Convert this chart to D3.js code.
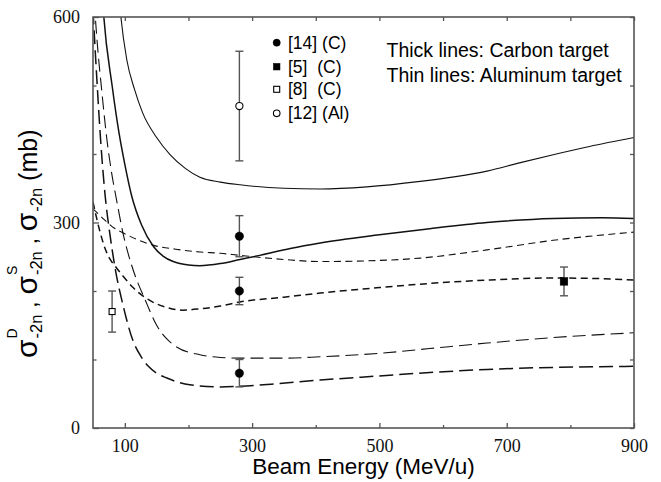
<!DOCTYPE html>
<html><head><meta charset="utf-8">
<script src="https://cdn.jsdelivr.net/npm/d3@7/dist/d3.min.js"></script>
<style>body{margin:0;background:#fff}svg{display:block}</style>
</head><body>
<svg id="chart" width="661" height="482"></svg>
<script>
// ---- tick values ----
const xTicksMajor = [100, 300, 500, 700, 900];
const xTicksMinor = [200, 400, 600, 800];
const yTicksMajor = [0, 300, 600];
const yTicksMinor = [100, 200, 400, 500];

// ---- theory curves (energy MeV/u, cross section mb) ----
// Aluminum total (thin solid)
const alTotalE = [90, 93.5, 103, 115, 128, 150, 171, 195, 218, 250, 281, 350, 407, 480, 564, 620, 669, 720, 773, 830, 900];
const alTotalV = [640, 603, 538, 495, 460, 424, 399, 379, 366, 359, 355, 350, 349, 352, 360, 367, 375, 387, 399, 411, 424];
// Carbon total (thick solid)
const cTotalE = [64, 67, 80, 91, 100, 111, 126.5, 145, 160, 176, 200, 218, 250, 281, 312, 360, 407, 500, 579, 669, 773, 850, 900];
const cTotalV = [640, 600, 500, 430, 385, 338, 296, 265, 251, 243, 238, 237, 240, 246, 252, 262, 270, 282, 291, 300, 306, 307, 306];
// Aluminum single (thin short dash)
const alSingleE = [50, 60, 69, 80, 97, 120, 144, 180, 218, 250, 281, 350, 407, 480, 564, 669, 773, 900];
const alSingleV = [320, 311, 303, 294, 285, 275, 267, 261, 257, 255, 252, 246, 243, 244, 248, 260, 274, 286];
// Carbon single (thick short dash)
const cSingleE = [50, 60, 69, 77, 85, 97, 113, 136, 166, 190, 218, 250, 281, 350, 407, 500, 579, 669, 773, 850, 900];
const cSingleV = [330, 290, 262, 246, 236, 222, 205, 188, 176, 172, 174, 178, 184, 191, 197, 205, 211, 216, 219, 218, 216];
// Aluminum double (thin long dash)
const alDoubleE = [50, 56, 64, 72, 79, 87, 97, 113, 132, 150, 166, 182, 218, 250, 281, 350, 407, 500, 579, 669, 773, 900];
const alDoubleV = [650, 570, 490, 420, 374, 333, 285, 231, 187, 150, 130, 118, 107, 103, 102, 102, 104, 109, 116, 124, 132, 139];
// Carbon double (thick long dash)
const cDoubleE = [50, 56, 62, 69, 77, 85, 97, 113, 125, 137, 150, 166, 202, 250, 281, 330, 407, 500, 579, 669, 773, 900];
const cDoubleV = [610, 510, 420, 340, 280, 232, 180, 127, 105, 90, 80, 73, 63, 60, 61, 64, 70, 76, 81, 85.5, 88.5, 90];

// ---- experimental data ----
const ref14E = [280, 280, 280], ref14V = [280, 200, 80], ref14Err = [30, 20, 20];
const ref5E = [790], ref5V = [214], ref5Err = [21];
const ref8E = [80], ref8V = [170], ref8Err = [30];
const ref12E = [280], ref12V = [470], ref12Err = [80];

const legendLabels = ["[14] (C)", "[5]  (C)", "[8]  (C)", "[12] (Al)"];
const noteLines = ["Thick lines: Carbon target", "Thin lines: Aluminum target"];

// ---- layout ----
const svg = d3.select("#chart");
const L = 93, R = 634, T = 17, B = 428;
const x = d3.scaleLinear().domain([50, 900]).range([L, R]);
const y = d3.scaleLinear().domain([0, 600]).range([B, T]);
const axisColor = "#555";
const serif = "'Liberation Serif','Times New Roman',serif";
const sans = "'Liberation Sans',Arial,Helvetica,sans-serif";

svg.append("defs").append("clipPath").attr("id", "clip")
  .append("rect").attr("x", L).attr("y", T).attr("width", R - L).attr("height", B - T);

// ---- curves ----
const line = d3.line().x(d => x(d[0])).y(d => y(d[1])).curve(d3.curveMonotoneX);
const curves = [
  {E: alTotalE, V: alTotalV, w: 1.1, dash: null},
  {E: cTotalE, V: cTotalV, w: 1.5, dash: null},
  {E: alSingleE, V: alSingleV, w: 1.1, dash: "7,4.5"},
  {E: cSingleE, V: cSingleV, w: 1.5, dash: "7,4.5"},
  {E: alDoubleE, V: alDoubleV, w: 1.1, dash: "13,6"},
  {E: cDoubleE, V: cDoubleV, w: 1.5, dash: "14,6"}
];
const cg = svg.append("g").attr("clip-path", "url(#clip)");
curves.forEach(c => {
  cg.append("path").datum(d3.zip(c.E, c.V)).attr("d", line)
    .attr("fill", "none").attr("stroke", "#111").attr("stroke-width", c.w)
    .attr("stroke-dasharray", c.dash);
});

// ---- axes ----
function styleAxis(g) {
  g.select(".domain").remove();
  g.selectAll(".tick line").attr("stroke", axisColor).attr("stroke-width", 1.3);
  g.selectAll(".tick text").attr("fill", "#111").style("font-family", serif).style("font-size", "18px");
}
svg.append("g").attr("transform", `translate(0,${B})`)
  .call(d3.axisBottom(x).tickValues(xTicksMajor).tickSize(-5).tickPadding(11).tickFormat(d3.format("d"))).call(styleAxis);
svg.append("g").attr("transform", `translate(0,${B})`)
  .call(d3.axisBottom(x).tickValues(xTicksMinor).tickSize(-3).tickFormat("")).call(styleAxis);
svg.append("g").attr("transform", `translate(0,${T})`)
  .call(d3.axisTop(x).tickValues(xTicksMajor.concat(xTicksMinor)).tickSize(-4).tickFormat("")).call(styleAxis);
svg.append("g").attr("transform", `translate(${L},0)`)
  .call(d3.axisLeft(y).tickValues(yTicksMajor).tickSize(-6).tickPadding(13).tickFormat(d3.format("d"))).call(styleAxis);
svg.append("g").attr("transform", `translate(${L},0)`)
  .call(d3.axisLeft(y).tickValues(yTicksMinor).tickSize(-3.5).tickFormat("")).call(styleAxis);
svg.append("g").attr("transform", `translate(${R},0)`)
  .call(d3.axisRight(y).tickValues(yTicksMajor.concat(yTicksMinor)).tickSize(-4).tickFormat("")).call(styleAxis);

svg.append("rect").attr("x", L).attr("y", T).attr("width", R - L).attr("height", B - T)
  .attr("fill", "none").attr("stroke", axisColor).attr("stroke-width", 1.6);

// ---- error bars + markers ----
const sets = [
  {E: ref14E, V: ref14V, Err: ref14Err, shape: "circle", fill: "#000", size: 4.2},
  {E: ref5E, V: ref5V, Err: ref5Err, shape: "square", fill: "#000", size: 3.8},
  {E: ref8E, V: ref8V, Err: ref8Err, shape: "square", fill: "#fff", size: 3},
  {E: ref12E, V: ref12V, Err: ref12Err, shape: "circle", fill: "#fff", size: 3.6}
];
const dg = svg.append("g");
function marker(g, shape, cx, cy, s, fill) {
  if (shape === "circle") {
    g.append("circle").attr("cx", cx).attr("cy", cy).attr("r", s)
      .attr("fill", fill).attr("stroke", "#000").attr("stroke-width", fill === "#fff" ? 1.1 : 0.5);
  } else {
    g.append("rect").attr("x", cx - s).attr("y", cy - s).attr("width", 2 * s).attr("height", 2 * s)
      .attr("fill", fill).attr("stroke", "#000").attr("stroke-width", fill === "#fff" ? 1.1 : 0.5);
  }
}
sets.forEach(s => {
  s.E.forEach((e, i) => {
    const cx = x(e), y1 = y(s.V[i] + s.Err[i]), y0 = y(s.V[i] - s.Err[i]);
    dg.append("line").attr("x1", cx).attr("x2", cx).attr("y1", y1).attr("y2", y0).attr("stroke", axisColor).attr("stroke-width", 1.4);
    [y1, y0].forEach(yy => dg.append("line").attr("x1", cx - 4).attr("x2", cx + 4).attr("y1", yy).attr("y2", yy).attr("stroke", axisColor).attr("stroke-width", 1.4));
  });
});
sets.forEach(s => s.E.forEach((e, i) => marker(dg, s.shape, x(e), y(s.V[i]), s.size, s.fill)));

// ---- legend ----
const legRows = [42.7, 66.7, 89.3, 113.3];
const legSizes = [3.6, 3.3, 3, 3.3];
const lg = svg.append("g");
legendLabels.forEach((lab, i) => {
  marker(lg, sets[i].shape, 276.7, legRows[i], legSizes[i], sets[i].fill);
  lg.append("text").attr("x", 288).attr("y", legRows[i] + 5.8)
    .style("font-family", sans).style("font-size", "17.5px").style("white-space", "pre")
    .attr("fill", "#000").text(lab);
});
noteLines.forEach((t, i) => {
  svg.append("text").attr("x", 386.5).attr("y", 56.7 + 25 * i)
    .style("font-family", sans).style("font-size", "19.5px").attr("fill", "#000").text(t);
});

// ---- axis titles ----
svg.append("text").attr("x", (L + R) / 2).attr("y", 474).attr("text-anchor", "middle")
  .style("font-family", sans).style("font-size", "22.5px").attr("fill", "#000").text("Beam Energy (MeV/u)");

const yl = svg.append("g").attr("transform", "translate(37,358) rotate(-90)");
const pieces = [
  {t: "σ", fs: 30}, {sup: "D", sub: "-2n"}, {t: " , ", fs: 24},
  {t: "σ", fs: 30}, {sup: "S", sub: "-2n"}, {t: " , ", fs: 24},
  {t: "σ", fs: 30}, {sub: "-2n"}, {t: " (mb)", fs: 25}
];
let cx = 0;
pieces.forEach(p => {
  if (p.t) {
    const el = yl.append("text").attr("x", cx).attr("y", 0)
      .style("font-family", sans).style("font-size", p.fs + "px")
      .style("white-space", "pre").attr("fill", "#000").text(p.t);
    cx += el.node().getComputedTextLength();
  } else {
    let w = 0;
    if (p.sup) {
      const el = yl.append("text").attr("x", cx + 1).attr("y", -20).style("font-family", sans)
        .style("font-size", "14px").attr("fill", "#000").text(p.sup);
      w = Math.max(w, el.node().getComputedTextLength() + 1);
    }
    if (p.sub) {
      const el = yl.append("text").attr("x", cx + 1).attr("y", 5).style("font-family", sans)
        .style("font-size", "16.5px").attr("fill", "#000").text(p.sub);
      w = Math.max(w, el.node().getComputedTextLength() + 1);
    }
    cx += w;
  }
});
</script>
</body></html>
